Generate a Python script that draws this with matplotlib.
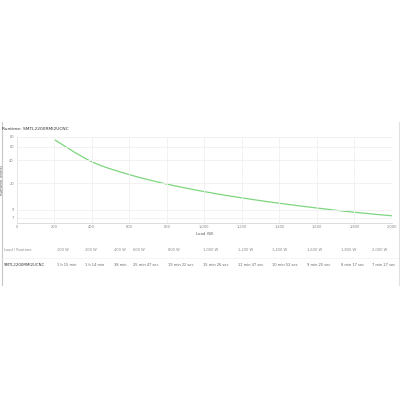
import numpy as np
import matplotlib
matplotlib.use("Agg")
import matplotlib.pyplot as plt
from matplotlib.path import Path
from matplotlib.patches import PathPatch
from matplotlib.ticker import FixedLocator, NullLocator

model = "SMTL2200RMI2UCNC"

# curve: load (W) vs runtime (min)
loads = [200, 400, 600, 800, 1000, 1200, 1400, 1600, 1800, 2000]
runtimes = [74.0, 38.0, 25.78, 19.37, 15.43, 12.78, 10.87, 9.42, 8.28, 7.45]

x_ticks = [0, 200, 400, 600, 800, 1000, 1200, 1400, 1600, 1800, 2000]
x_tick_labels = ["0", "200", "400", "600", "800", "1,000", "1,200", "1,400", "1,600", "1,800", "2,000"]
y_ticks = [7, 9, 20, 40, 60, 80]

# table under the chart
table_loads = ["100 W", "200 W", "400 W", "600 W", "800 W", "1,000 W", "1,200 W",
               "1,400 W", "1,600 W", "1,800 W", "2,000 W"]
table_times = ["1 h 15 min", "1 h 14 min", "38 min", "25 min 47 sec", "19 min 22 sec",
               "15 min 26 sec", "12 min 47 sec", "10 min 52 sec", "9 min 25 sec",
               "8 min 17 sec", "7 min 27 sec"]
table_x = [57, 85, 114, 133, 168, 203, 238, 272, 307, 341, 372]


def spline_path(xs, ys):
    # smooth line through the points (catmull-rom as bezier), done in x / log10(y)
    u = np.array(xs, float)
    v = np.log10(np.array(ys, float))
    verts = [(u[0], v[0])]
    codes = [Path.MOVETO]
    n = len(u)
    for i in range(n - 1):
        p0 = (u[max(i - 1, 0)], v[max(i - 1, 0)])
        p1 = (u[i], v[i])
        p2 = (u[i + 1], v[i + 1])
        p3 = (u[min(i + 2, n - 1)], v[min(i + 2, n - 1)])
        c1 = (p1[0] + (p2[0] - p0[0]) / 6, p1[1] + (p2[1] - p0[1]) / 6)
        c2 = (p2[0] - (p3[0] - p1[0]) / 6, p2[1] - (p3[1] - p1[1]) / 6)
        verts += [c1, c2, p2]
        codes += [Path.CURVE4] * 3
    verts = [(a, 10 ** b) for a, b in verts]
    return Path(verts, codes)


W, H = 400, 400
fig = plt.figure(figsize=(4, 4), dpi=100)
fig.patch.set_facecolor("white")

ax = fig.add_axes([16.7 / W, 1 - 222.7 / H, (392 - 16.7) / W, (222.7 - 137) / H])
ax.set_yscale("log")
ax.set_xlim(0, 2000)
ax.set_ylim(6.05, 80)
ax.add_patch(PathPatch(spline_path(loads, runtimes), facecolor="none",
                       edgecolor="#7dd67f", lw=0.9, transform=ax.transData))
ax.yaxis.set_major_locator(FixedLocator(y_ticks))
ax.yaxis.set_minor_locator(NullLocator())
ax.set_yticklabels([str(v) for v in y_ticks])
ax.set_xticks(x_ticks)
ax.set_xticklabels(x_tick_labels)
ax.tick_params(labelsize=2.6, colors="#888888", length=0, pad=2)
ax.grid(True, color="#f0f0f0", lw=0.6)
for s in ["top", "right"]:
    ax.spines[s].set_visible(False)
ax.spines["left"].set_color("#e6e6e6")
ax.spines["bottom"].set_color("#d6d6d6")
ax.spines["left"].set_linewidth(0.6)
ax.spines["bottom"].set_linewidth(0.6)
ax.set_xlabel("Load (W)", fontsize=2.8, color="#555555", labelpad=2)
ax.set_ylabel("Runtime (mins)", fontsize=2.8, color="#555555", labelpad=4)

# title and frame lines
fig.text(2 / W, 1 - 129 / H, "Runtime: " + model, fontsize=3.2, color="#333333", va="center")
fig.add_artist(plt.Line2D([1.5 / W, 1.5 / W], [1 - 122 / H, 1 - 285 / H], color="#c8c8c8", lw=0.8))
fig.add_artist(plt.Line2D([398.5 / W, 398.5 / W], [1 - 122 / H, 1 - 285 / H], color="#e0e0e0", lw=0.8))
fig.add_artist(plt.Line2D([2 / W, 398 / W], [1 - 258 / H, 1 - 258 / H], color="#f0f0f0", lw=0.5))

# table
fig.text(4 / W, 1 - 250 / H, "Load / Runtime", fontsize=2.6, color="#888888", va="center")
fig.text(4 / W, 1 - 264.5 / H, model, fontsize=2.8, color="#333333", va="center")
for xp, ld, rt in zip(table_x, table_loads, table_times):
    fig.text(xp / W, 1 - 250 / H, ld, fontsize=2.6, color="#888888", va="center")
    fig.text(xp / W, 1 - 264.5 / H, rt, fontsize=2.6, color="#666666", va="center")

fig.savefig("out.png", dpi=100, facecolor="white")
